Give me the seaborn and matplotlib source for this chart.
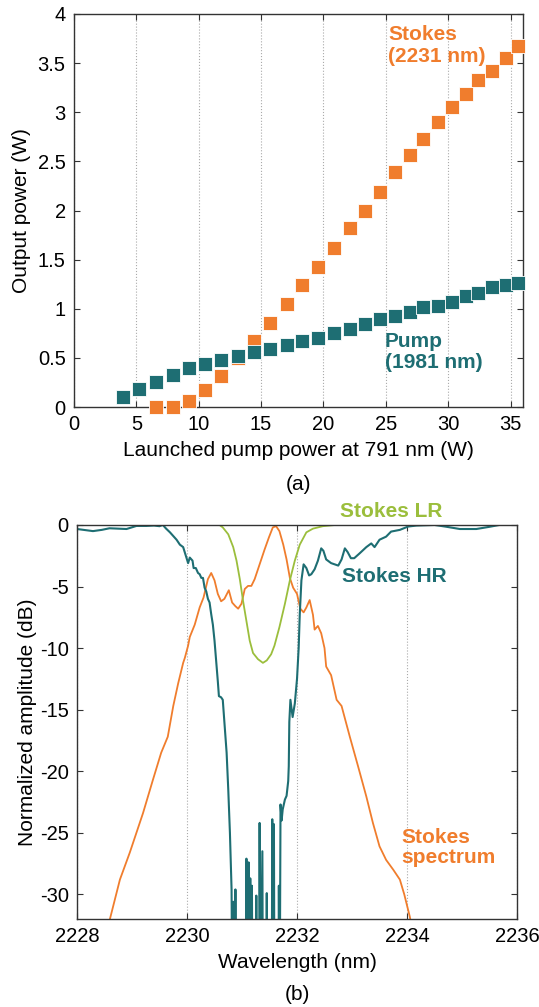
import numpy as np
import pandas as pd
import seaborn as sns
import matplotlib.pyplot as plt

# (a) output power vs launched pump power
pump_x = [3.9, 5.23, 6.57, 7.9, 9.19, 10.47, 11.8, 13.14, 14.42, 15.73, 17.04, 18.32,
          19.6, 20.86, 22.1, 23.34, 24.55, 25.75, 26.98, 28.0, 29.2, 30.34, 31.4,
          32.43, 33.5, 34.6, 35.6]
pump_y = [0.10, 0.18, 0.25, 0.33, 0.40, 0.44, 0.48, 0.52, 0.56, 0.59, 0.63, 0.67,
          0.705, 0.756, 0.797, 0.847, 0.895, 0.925, 0.963, 1.017, 1.03, 1.068, 1.125,
          1.16, 1.22, 1.24, 1.26]
stokes_x = pump_x[2:]
stokes_y = [0.0, 0.0, 0.06, 0.176, 0.32, 0.50, 0.67, 0.854, 1.047, 1.24, 1.43, 1.62,
            1.82, 2.0, 2.19, 2.39, 2.56, 2.73, 2.90, 3.05, 3.19, 3.33, 3.42, 3.55, 3.67]

# (b) spectra
lr_wl = [2228.0, 2229.0, 2230.0, 2230.59, 2230.65, 2230.75, 2230.84, 2230.90, 2230.96,
         2231.02, 2231.08, 2231.14, 2231.20, 2231.29, 2231.38, 2231.45, 2231.53, 2231.59,
         2231.68, 2231.78, 2231.87, 2231.96, 2232.05, 2232.17, 2232.29, 2232.47, 2232.70,
         2236.0]
lr_db = [0, 0, 0, 0, -0.2, -0.76, -1.8, -2.9, -4.4, -6.2, -7.8, -9.4, -10.4, -10.9, -11.2,
         -11.0, -10.5, -9.8, -8.3, -6.4, -4.5, -2.9, -1.6, -0.6, -0.3, -0.1, 0, 0]

hr_wl = [2228.00, 2228.15, 2228.29, 2228.45, 2228.59, 2228.75, 2228.90, 2229.08, 2229.26,
         2229.40, 2229.50, 2229.56, 2229.62, 2229.69, 2229.75, 2229.81, 2229.87, 2229.93,
         2229.99, 2230.02, 2230.05, 2230.08, 2230.10, 2230.12, 2230.16, 2230.20, 2230.23,
         2230.26, 2230.29, 2230.32, 2230.35, 2230.38, 2230.41, 2230.44, 2230.47, 2230.50,
         2230.53, 2230.56, 2230.58, 2230.62, 2230.65, 2230.68, 2230.72, 2230.75, 2230.78,
         2230.81, 2230.825, 2230.84, 2230.855, 2230.87, 2230.88, 2230.89,
         2231.07, 2231.08, 2231.10, 2231.12, 2231.135, 2231.15, 2231.165, 2231.18, 2231.19,
         2231.25, 2231.26, 2231.27, 2231.31, 2231.32, 2231.335, 2231.37, 2231.38,
         2231.44, 2231.45, 2231.46, 2231.54, 2231.55, 2231.565, 2231.58, 2231.59,
         2231.66, 2231.67, 2231.685, 2231.70, 2231.72, 2231.74, 2231.78, 2231.81, 2231.84,
         2231.85, 2231.86, 2231.88, 2231.92, 2231.96, 2232.00, 2232.03, 2232.05, 2232.08,
         2232.12, 2232.17, 2232.22, 2232.26, 2232.32, 2232.38, 2232.44, 2232.48, 2232.53,
         2232.62, 2232.75, 2232.81, 2232.87, 2232.92, 2232.98, 2233.04, 2233.14, 2233.26,
         2233.35, 2233.41, 2233.50, 2233.62, 2233.71, 2233.87, 2234.02, 2234.17, 2234.50,
         2234.72, 2234.96, 2235.26, 2235.50, 2235.68, 2236.0]
hr_db = [-0.33, -0.42, -0.5, -0.4, -0.27, -0.3, -0.33, -0.08, -0.08,
         -0.05, -0.1, 0, -0.3, -0.6, -0.9, -1.2, -1.6, -1.8,
         -2.65, -3.1, -2.65, -2.8, -2.9, -3.5, -3.5, -3.9, -4.0,
         -4.3, -4.3, -5.1, -5.4, -6.0, -6.3, -7.25, -8.1, -9.4,
         -11.0, -12.7, -13.9, -14.0, -14.2, -16.0, -18.5, -21.5, -25.0,
         -29.6, -40, -30.6, -40, -40, -29.6, -40,
         -40, -27.1, -40, -27.4, -40, -28.7, -40, -29.3, -40,
         -40, -30.1, -40, -40, -24.2, -40, -26.5, -40,
         -40, -29.9, -40, -40, -23.9, -40, -24.3, -40,
         -40, -29.3, -40, -22.7, -24.0, -23.1, -22.3, -22.0, -20.8,
         -19.6, -16.0, -14.2, -15.6, -14.5, -12.5, -10.0, -7.25, -4.5,
         -3.2, -3.5, -4.1, -4.0, -3.6, -2.9, -1.9, -2.1, -2.8,
         -3.1, -3.3, -2.8, -1.9, -2.2, -2.7, -2.7, -2.3, -1.8,
         -1.5, -1.8, -1.2, -0.95, -0.54, -0.4, -0.13, -0.05, 0,
         -0.15, -0.33, -0.33, -0.15, 0, 0]

sp_wl = [2228.57, 2228.78, 2228.96, 2229.20, 2229.38, 2229.53, 2229.65, 2229.75, 2229.84,
         2229.93, 2229.96, 2230.02, 2230.05, 2230.14, 2230.23, 2230.30, 2230.38, 2230.44,
         2230.50, 2230.56, 2230.62, 2230.68, 2230.76, 2230.82, 2230.88, 2230.93, 2230.99,
         2231.05, 2231.11, 2231.17, 2231.23, 2231.32, 2231.41, 2231.49, 2231.56, 2231.62,
         2231.68, 2231.75, 2231.81, 2231.87, 2231.93, 2232.00, 2232.06, 2232.12, 2232.17,
         2232.23, 2232.29, 2232.32, 2232.38, 2232.44, 2232.50, 2232.53, 2232.62, 2232.72,
         2232.81, 2232.96, 2233.11, 2233.26, 2233.38, 2233.50, 2233.62, 2233.75, 2233.87,
         2233.95, 2234.05, 2234.08]
sp_db = [-32.5, -28.8, -26.6, -23.4, -20.7, -18.5, -17.2, -14.7, -12.85,
         -11.2, -10.8, -9.8, -9.1, -8.1, -6.7, -5.9, -4.4, -3.9,
         -4.5, -5.6, -6.2, -6.0, -5.3, -6.3, -6.6, -6.8, -6.4,
         -5.2, -4.95, -4.95, -4.4, -3.2, -2.0, -1.0, -0.2, -0.1,
         -0.5, -1.6, -2.8, -4.3, -5.1, -5.6, -6.8, -7.1, -6.7,
         -6.1, -7.3, -8.5, -8.2, -8.8, -10.0, -11.5, -12.2, -14.2,
         -14.7, -17.2, -19.6, -22.05, -24.2, -26.1, -27.2, -28.0, -28.8,
         -30.0, -31.8, -32.5]

a_xticks = [0, 5, 10, 15, 20, 25, 30, 35]
a_yticks = [0, 0.5, 1, 1.5, 2, 2.5, 3, 3.5, 4]
a_ylabels = ['0', '0.5', '1', '1.5', '2', '2.5', '3', '3.5', '4']
b_xticks = [2228, 2230, 2232, 2234, 2236]
b_yticks = [0, -5, -10, -15, -20, -25, -30]
b_ylabels = ['0', '-5', '-10', '-15', '-20', '-25', '-30']

ORANGE = '#F07D2D'
TEAL = '#1E6E73'
GREEN = '#9BBE3C'

plt.rcParams['font.family'] = ['Liberation Sans', 'DejaVu Sans']
plt.rcParams['font.size'] = 15

fig = plt.figure(figsize=(5.39, 10.07), dpi=100)
ax1 = fig.add_axes([0.1373, 0.5958, 0.833, 0.3903])
ax2 = fig.add_axes([0.1429, 0.0874, 0.8163, 0.3913])

pump = pd.DataFrame({'x': pump_x, 'y': pump_y})
stokes = pd.DataFrame({'x': stokes_x, 'y': stokes_y})
sns.scatterplot(data=stokes, x='x', y='y', ax=ax1, marker='s', s=100, color=ORANGE,
                edgecolor='white', linewidth=0.6, clip_on=False, zorder=3)
sns.scatterplot(data=pump, x='x', y='y', ax=ax1, marker='s', s=100, color=TEAL,
                edgecolor='white', linewidth=0.6, clip_on=False, zorder=4)
ax1.set_xlim(0, 36)
ax1.set_ylim(0, 4)
ax1.set_xticks(a_xticks)
ax1.set_yticks(a_yticks)
ax1.set_yticklabels(a_ylabels)
ax1.set_xlabel('Launched pump power at 791 nm (W)', labelpad=5)
ax1.set_ylabel('Output power (W)', labelpad=5)
ax1.text(25.2, 3.68, 'Stokes\n(2231 nm)', color=ORANGE, fontweight='bold',
         fontsize=15, va='center', ha='left', linespacing=1.15)
ax1.text(24.9, 0.56, 'Pump\n(1981 nm)', color=TEAL, fontweight='bold',
         fontsize=15, va='center', ha='left', linespacing=1.15)

hr = pd.DataFrame({'wl': hr_wl, 'db': hr_db})
lr = pd.DataFrame({'wl': lr_wl, 'db': lr_db})
sp = pd.DataFrame({'wl': sp_wl, 'db': sp_db})
sns.lineplot(data=sp, x='wl', y='db', ax=ax2, color=ORANGE, lw=1.3, estimator=None, sort=False)
sns.lineplot(data=hr, x='wl', y='db', ax=ax2, color=TEAL, lw=1.5, estimator=None, sort=False)
sns.lineplot(data=lr, x='wl', y='db', ax=ax2, color=GREEN, lw=1.3, estimator=None, sort=False)
ax2.set_xlim(2228, 2236)
ax2.set_ylim(-32, 0)
ax2.set_xticks(b_xticks)
ax2.set_xticklabels([str(v) for v in b_xticks])
ax2.set_yticks(b_yticks)
ax2.set_yticklabels(b_ylabels)
ax2.set_xlabel('Wavelength (nm)', labelpad=5)
ax2.set_ylabel('Normalized amplitude (dB)', labelpad=2)
ax2.text(2232.78, 1.1, 'Stokes LR', color=GREEN, fontweight='bold', fontsize=15,
         va='center', ha='left', clip_on=False)
ax2.text(2232.81, -4.2, 'Stokes HR', color=TEAL, fontweight='bold', fontsize=15,
         va='center', ha='left')
ax2.text(2233.9, -26.2, 'Stokes\nspectrum', color=ORANGE, fontweight='bold', fontsize=15,
         va='center', ha='left', linespacing=1.05)

for ax in (ax1, ax2):
    ax.xaxis.grid(True, ls=':', color='#aaaaaa', lw=0.8)
    ax.set_axisbelow(True)
    ax.tick_params(direction='in', top=True, right=True, length=4, width=0.8,
                   colors='#333333', labelcolor='black', labelsize=14.5, pad=6)
    for s in ax.spines.values():
        s.set_color('#333333')
        s.set_linewidth(1.0)

fig.text(0.553, 1 - 484 / 1007, '(a)', ha='center', va='center', fontsize=15)
fig.text(0.551, 1 - 995 / 1007, '(b)', ha='center', va='center', fontsize=15)

fig.savefig('out.png', dpi=100)
